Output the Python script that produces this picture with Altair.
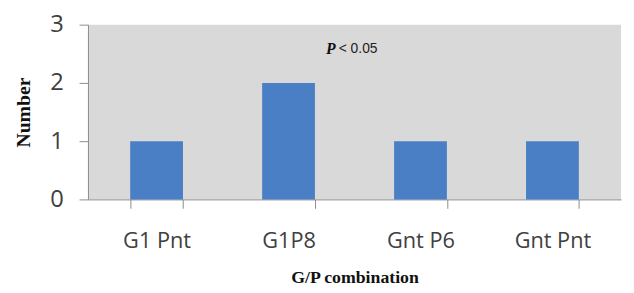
import altair as alt
import pandas as pd

categories = ["G1 Pnt", "G1P8", "Gnt P6", "Gnt Pnt"]
values = [1, 2, 1, 1]
y_ticks = [0, 1, 2, 3]

df = pd.DataFrame({"combo": categories, "number": values})

x_enc = alt.X(
    "combo:N",
    sort=categories,
    title="G/P combination",
    scale=alt.Scale(paddingInner=0.6, paddingOuter=0.32),
    axis=alt.Axis(
        labelAngle=0,
        labelFont="Open Sans",
        labelFontSize=22,
        labelColor="#404040",
        labelPadding=23,
        tickBand="extent",
        tickSize=9,
        tickColor="#8c8c8c",
        domainColor="#8c8c8c",
        titleFont="Liberation Serif",
        titleFontWeight="bold",
        titleFontSize=18,
        titleColor="#111111",
        titlePadding=17,
    ),
)

y_enc = alt.Y(
    "number:Q",
    title="Number",
    scale=alt.Scale(domain=[0, 3], nice=False),
    axis=alt.Axis(
        values=y_ticks,
        grid=False,
        labelFont="Open Sans",
        labelFontSize=24,
        labelColor="#404040",
        labelPadding=16,
        tickSize=9,
        tickColor="#8c8c8c",
        domainColor="#8c8c8c",
        titleFont="Liberation Serif",
        titleFontWeight="bold",
        titleFontSize=20,
        titleColor="#111111",
        titlePadding=16,
    ),
)

bars = alt.Chart(df).mark_bar(color="#4a7fc6").encode(x=x_enc, y=y_enc)

ann_df = pd.DataFrame({"t": ["P"]})
ann_p = alt.Chart(ann_df).mark_text(
    font="Liberation Serif", fontSize=16, fontStyle="italic", fontWeight="bold",
    align="left", baseline="middle", color="#111111"
).encode(text="t:N", x=alt.value(241), y=alt.value(25))

ann_df2 = pd.DataFrame({"t": ["< 0.05"]})
ann_rest = alt.Chart(ann_df2).mark_text(
    font="Liberation Sans", fontSize=14, align="left", baseline="middle", color="#222222"
).encode(text="t:N", x=alt.value(254), y=alt.value(25))

chart = (
    alt.layer(bars, ann_p, ann_rest)
    .properties(
        width=540,
        height=177,
        autosize=alt.AutoSizeParams(type="none"),
        padding={"left": 81, "top": 15, "right": 5, "bottom": 100},
        background="white",
    )
    .configure_view(fill="#d9d9d9", stroke=None)
)

chart.save("out.html", embed_options={"renderer": "svg", "actions": False})
